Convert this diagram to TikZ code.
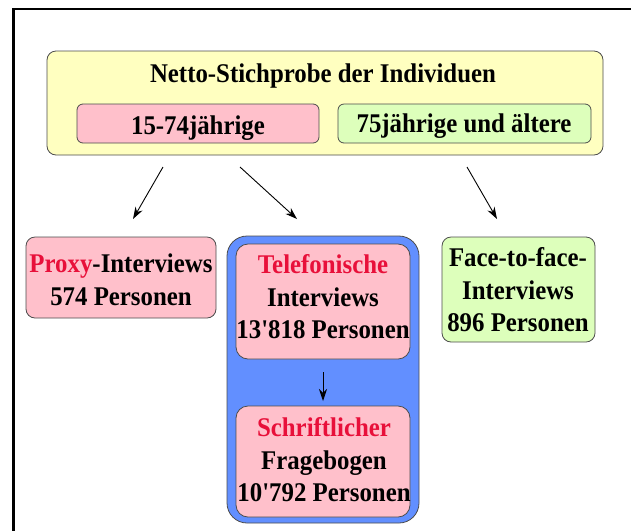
\documentclass[tikz,border=0pt]{standalone}
\usepackage{fontspec}
\setmainfont{Liberation Serif}[FakeStretch=0.92, Ligatures=TeXOff]
\usetikzlibrary{arrows.meta}

\definecolor{gelb}{RGB}{255,255,192}
\definecolor{rosa}{RGB}{255,192,203}
\definecolor{gruen}{RGB}{221,255,187}
\definecolor{blau}{RGB}{98,143,255}
\definecolor{rot}{RGB}{232,16,58}

\begin{document}
\begin{tikzpicture}[x=1pt,y=1pt,
    kasten/.style ={draw=black!70, rounded corners=9pt, line width=0.8pt},
    beschrift/.style ={font=\fontsize{27}{32.5}\selectfont\bfseries, align=center, inner sep=0pt},
    pfeil/.style ={-{Stealth[length=12pt,width=8pt]}, line width=0.9pt}]
   \useasboundingbox (0,0) rectangle (631,-531);
   % Rahmen
   \draw[line width=2.2pt] (631,-9) -- (13.5,-9) -- (13.5,-531);

   % Stichprobe
   \draw[kasten,fill=gelb] (47,-51) rectangle (603,-155);
   \node[beschrift] (titel) at (323,-76) {Netto-Stichprobe der Individuen};
   \draw[kasten,fill=rosa,rounded corners=6pt] (77,-104) rectangle (319,-143);
   \node[beschrift] (jung) at (198,-128) {15-74jährige};
   \draw[kasten,fill=gruen,rounded corners=6pt] (338,-104) rectangle (591,-143);
   \node[beschrift] (alt) at (464,-126) {75jährige und ältere};

   % Ziele
   \draw[kasten,fill=rosa] (26,-237) rectangle (216,-318);
   \node[beschrift] (proxy) at (121,-280) {\textcolor{rot}{Proxy}-Interviews\\574 Personen};

   \draw[kasten,fill=blau,rounded corners=20pt] (227,-236) rectangle (419,-523);
   \draw[kasten,fill=rosa,rounded corners=12pt] (236,-244) rectangle (410,-359);
   \node[beschrift] (telefon) at (323,-297) {\textcolor{rot}{Telefonische}\\Interviews\\13'818 Personen};
   \draw[kasten,fill=rosa,rounded corners=12pt] (236,-406) rectangle (410,-517);
   \node[beschrift] (schrift) at (324,-460) {\textcolor{rot}{Schriftlicher}\\Fragebogen\\10'792 Personen};

   \draw[kasten,fill=gruen] (442,-237) rectangle (595,-342);
   \node[beschrift] (face) at (518,-290) {Face-to-face-\\Interviews\\896 Personen};

   % Pfeile
   \coordinate (p1) at (163,-167);
   \coordinate (q1) at (133,-219);
   \coordinate (p2) at (240,-167);
   \coordinate (q2) at (297,-219);
   \coordinate (p3) at (467,-167);
   \coordinate (q3) at (497,-219);
   \coordinate (p4) at (323,-372);
   \coordinate (q4) at (323,-401);
   \draw[pfeil] (p1) -- (q1);
   \draw[pfeil] (p2) -- (q2);
   \draw[pfeil] (p3) -- (q3);
   \draw[pfeil] (p4) -- (q4);
 \end{tikzpicture}
\end{document}
